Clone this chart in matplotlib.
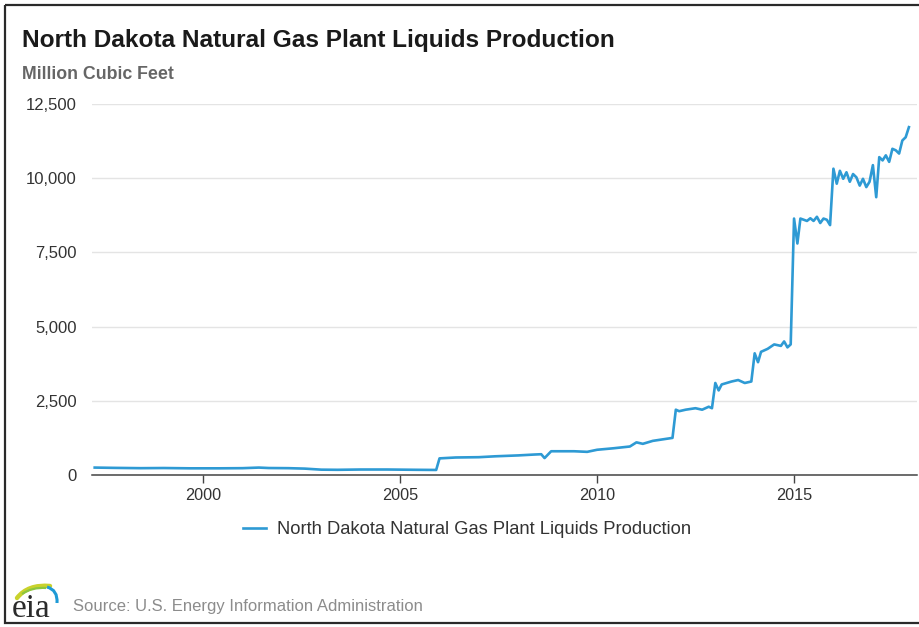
import matplotlib
matplotlib.use('Agg')
import matplotlib.pyplot as plt
import matplotlib.dates as mdates
from matplotlib.patches import Rectangle, PathPatch
from matplotlib.path import Path
import pandas as pd

plt.rcParams['font.family'] = ['Liberation Sans', 'DejaVu Sans']

# monthly readings (million cubic feet)
months = [
    '1997-04', '1997-10', '1998-06', '1999-01', '1999-09', '2000-06', '2001-01',
    '2001-06', '2001-09', '2002-03', '2002-08', '2003-01', '2003-06', '2004-01',
    '2004-09', '2005-06', '2005-12',
    '2006-01', '2006-06', '2007-01', '2007-06', '2008-01', '2008-06', '2008-08',
    '2008-09', '2008-11', '2009-06', '2009-10', '2010-01', '2010-06', '2010-11',
    '2011-01', '2011-03', '2011-06', '2011-12',
    '2012-01', '2012-02', '2012-04', '2012-07', '2012-09', '2012-11', '2012-12',
    '2013-01', '2013-02', '2013-03', '2013-06', '2013-08', '2013-10', '2013-12',
    '2014-01', '2014-02', '2014-03', '2014-05', '2014-07', '2014-09', '2014-10',
    '2014-11', '2014-12',
    '2015-01', '2015-02', '2015-03', '2015-04', '2015-05', '2015-06',
    '2015-07', '2015-08', '2015-09', '2015-10', '2015-11', '2015-12',
    '2016-01', '2016-02', '2016-03', '2016-04', '2016-05', '2016-06',
    '2016-07', '2016-08', '2016-09', '2016-10', '2016-11', '2016-12',
    '2017-01', '2017-02', '2017-03', '2017-04', '2017-05', '2017-06',
    '2017-07', '2017-08', '2017-09', '2017-10', '2017-11', '2017-12',
]
production = [
    250, 240, 230, 235, 225, 225, 230,
    250, 235, 230, 215, 180, 175, 185,
    185, 175, 170,
    560, 590, 600, 630, 660, 690, 700,
    570, 800, 800, 780, 850, 900, 960,
    1100, 1050, 1150, 1250,
    2200, 2150, 2200, 2250, 2200, 2300, 2250,
    3100, 2850, 3050, 3150, 3200, 3100, 3150,
    4100, 3800, 4150, 4250, 4400, 4350, 4500,
    4300, 4400,
    8640, 7800, 8640, 8600, 8560, 8650,
    8560, 8700, 8490, 8640, 8600, 8420,
    10320, 9815, 10250, 9980, 10200, 9880,
    10140, 10030, 9750, 9980, 9700, 9880,
    10440, 9360, 10710, 10600, 10770, 10550,
    10990, 10940, 10830, 11270, 11380, 11720,
]
series_name = 'North Dakota Natural Gas Plant Liquids Production'
y_ticks = [0, 2500, 5000, 7500, 10000, 12500]
x_tick_years = [2000, 2005, 2010, 2015]

dates = pd.to_datetime(months)

W, H = 919, 627
fig = plt.figure(figsize=(W / 100, H / 100), dpi=100)
ax = fig.add_axes([92 / W, 1 - 475 / H, (917 - 92) / W, (475 - 104) / H])

line_color = '#2e9ad4'
ax.plot(dates, production, color=line_color, lw=1.9, label=series_name,
        solid_joinstyle='round', zorder=3)

ax.set_ylim(0, 12500)
ax.set_yticks(y_ticks)
ax.set_yticklabels([f'{v:,}' for v in y_ticks])
ax.set_xlim(pd.Timestamp('1997-03-07'), pd.Timestamp('2018-02-14'))
ax.set_xticks([pd.Timestamp(f'{y}-01-01') for y in x_tick_years])
ax.xaxis.set_major_formatter(mdates.DateFormatter('%Y'))

ax.grid(axis='y', color='#e4e4e4', lw=1)
ax.set_axisbelow(True)
for s in ['top', 'right', 'left']:
    ax.spines[s].set_visible(False)
ax.spines['bottom'].set_color('#444444')
ax.spines['bottom'].set_linewidth(1.1)
ax.tick_params(axis='y', length=0, pad=11, labelsize=12, labelcolor='#333333')
ax.tick_params(axis='x', length=6, width=1, color='#444444', pad=3,
               labelsize=11.7, labelcolor='#333333')

leg = ax.legend(loc='center', bbox_to_anchor=(467 / W, 1 - 530 / H),
                bbox_transform=fig.transFigure, frameon=False, fontsize=13.2,
                handlelength=1.25, handletextpad=0.6)
for t in leg.get_texts():
    t.set_color('#333333')

fig.text(22 / W, 1 - 47 / H, series_name, fontsize=17.6, fontweight='bold',
         color='#1a1a1a', va='baseline', ha='left')
fig.text(22 / W, 1 - 79 / H, 'Million Cubic Feet', fontsize=12.8,
         fontweight='bold', color='#666666', va='baseline', ha='left')
fig.text(73 / W, 1 - 611 / H, 'Source: U.S. Energy Information Administration',
         fontsize=12, color='#8c8c8c', va='baseline', ha='left')

# overlay in pixel coordinates for the frame and the logo
ov = fig.add_axes([0, 0, 1, 1], zorder=5)
ov.set_xlim(0, W)
ov.set_ylim(H, 0)
ov.axis('off')
ov.patch.set_alpha(0)
ov.add_patch(Rectangle((5, 5), W + 10, 618, fill=False, ec='#2a2a2a', lw=1.6))

ov.text(12, 617, 'eia', family=['Liberation Serif', 'DejaVu Serif'],
        fontsize=24, color='#2b2b2b', va='baseline', ha='left')
swoosh = Path([(17, 598), (28, 584), (50, 586)],
              [Path.MOVETO, Path.CURVE3, Path.CURVE3])
ov.add_patch(PathPatch(swoosh, fill=False, ec='#c9d22c', lw=3.2,
                       capstyle='round'))
swoosh2 = Path([(22, 594), (32, 587), (46, 588)],
               [Path.MOVETO, Path.CURVE3, Path.CURVE3])
ov.add_patch(PathPatch(swoosh2, fill=False, ec='#8cc63f', lw=1.6))
blue = Path([(47, 587), (58, 590), (57, 603)],
            [Path.MOVETO, Path.CURVE3, Path.CURVE3])
ov.add_patch(PathPatch(blue, fill=False, ec='#1e9ad6', lw=2.2))

fig.savefig('out.png', dpi=100)
